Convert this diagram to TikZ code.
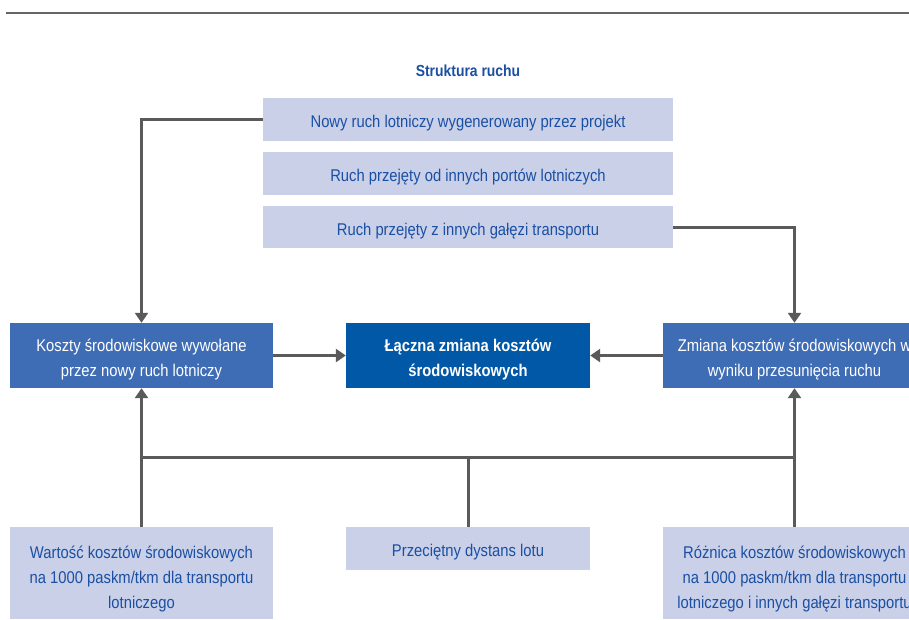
\documentclass[tikz,border=0pt]{standalone}
\usepackage{fontspec}
\setmainfont{Liberation Sans}[FakeStretch=0.87]
\usetikzlibrary{arrows.meta}
\definecolor{lightbox}{HTML}{C9D0E8}
\definecolor{midbox}{HTML}{3E6DB5}
\definecolor{darkbox}{HTML}{0058A6}
\definecolor{bluetext}{HTML}{1A4FA3}
\definecolor{linegray}{HTML}{5A5A5A}
\tikzset{
  lbox/.style={fill=lightbox, draw=none, inner sep=0pt},
  mbox/.style={fill=midbox, draw=none, inner sep=0pt, minimum width=263pt, minimum height=65pt},
  dbox/.style={fill=darkbox, draw=none, inner sep=0pt, minimum width=244pt, minimum height=65pt},
  ltext/.style={text=bluetext, align=center, font=\fontsize{17}{25}\selectfont, inner sep=0pt},
  wtext/.style={text=white, align=center, font=\fontsize{17}{25}\selectfont, inner sep=0pt},
  btext/.style={text=white, align=center, font=\bfseries\fontsize{17}{25}\selectfont, inner sep=0pt},
  conn/.style={draw=linegray, line width=3pt},
  arr/.style={conn, -{Triangle[length=10pt,width=13pt]}},
}
\begin{document}
\begin{tikzpicture}[x=1pt,y=-1pt]
\useasboundingbox (0,0) rectangle (909,619);
\clip (0,0) rectangle (909,619);
\fill[white] (0,0) rectangle (909,619);
% top rule
\draw[draw=gray!80!black, line width=2pt] (6,13) -- (909,13);
% title
\node[text=bluetext, font=\bfseries\fontsize{16}{20}\selectfont] (title) at (468,71) {Struktura ruchu};
% top boxes
\node[lbox, minimum width=410pt, minimum height=43pt] (t1) at (468,119.5) {};
\node[ltext] (t1txt) at ([yshift=-4pt]t1.center) {Nowy ruch lotniczy wygenerowany przez projekt};
\node[lbox, minimum width=410pt, minimum height=43pt] (t2) at (468,173.5) {};
\node[ltext] (t2txt) at ([yshift=-4pt]t2.center) {Ruch przejęty od innych portów lotniczych};
\node[lbox, minimum width=410pt, minimum height=42pt] (t3) at (468,227) {};
\node[ltext] (t3txt) at ([yshift=-4pt]t3.center) {Ruch przejęty z innych gałęzi transportu};
% middle row
\node[mbox] (koszty) at (141.5,355.5) {};
\node[wtext] (kosztytxt) at ([yshift=-4pt]koszty.center) {Koszty środowiskowe wywołane\\przez nowy ruch lotniczy};
\node[dbox] (laczna) at (468,355.5) {};
\node[btext] (lacznatxt) at ([yshift=-4pt]laczna.center) {Łączna zmiana kosztów\\środowiskowych};
\node[mbox] (zmiana) at (794.5,355.5) {};
\node[wtext] (zmianatxt) at ([yshift=-4pt]zmiana.center) {Zmiana kosztów środowiskowych w\\wyniku przesunięcia ruchu};
% bottom row
\node[lbox, minimum width=263pt, minimum height=92pt] (wart) at (141.5,573) {};
\node[ltext] (warttxt) at ([yshift=-6pt]wart.center) {Wartość kosztów środowiskowych\\na 1000 paskm/tkm dla transportu\\lotniczego};
\node[lbox, minimum width=244pt, minimum height=43pt] (dyst) at (468,548.5) {};
\node[ltext] (dysttxt) at ([yshift=-4pt]dyst.center) {Przeciętny dystans lotu};
\node[lbox, minimum width=263pt, minimum height=92pt] (roz) at (794.5,573) {};
\node[ltext] (roztxt) at ([yshift=-6pt]roz.center) {Różnica kosztów środowiskowych\\na 1000 paskm/tkm dla transportu\\lotniczego i innych gałęzi transportu};
% connectors top
\draw[arr] (t1.west) -| (koszty.north);
\draw[arr] (t3.east) -| (zmiana.north);
% middle arrows
\draw[arr] (koszty.east) -- (laczna.west);
\draw[arr] (zmiana.west) -- (laczna.east);
% bottom bus
\coordinate (j1) at (141.5,457);
\coordinate (j2) at (794.5,457);
\draw[conn] (j1) -- (j2);
\draw[arr] (wart.north) -- (koszty.south);
\draw[arr] (roz.north) -- (zmiana.south);
\draw[conn] (dyst.north) -- (dyst.north |- j1);
\end{tikzpicture}
\end{document}
